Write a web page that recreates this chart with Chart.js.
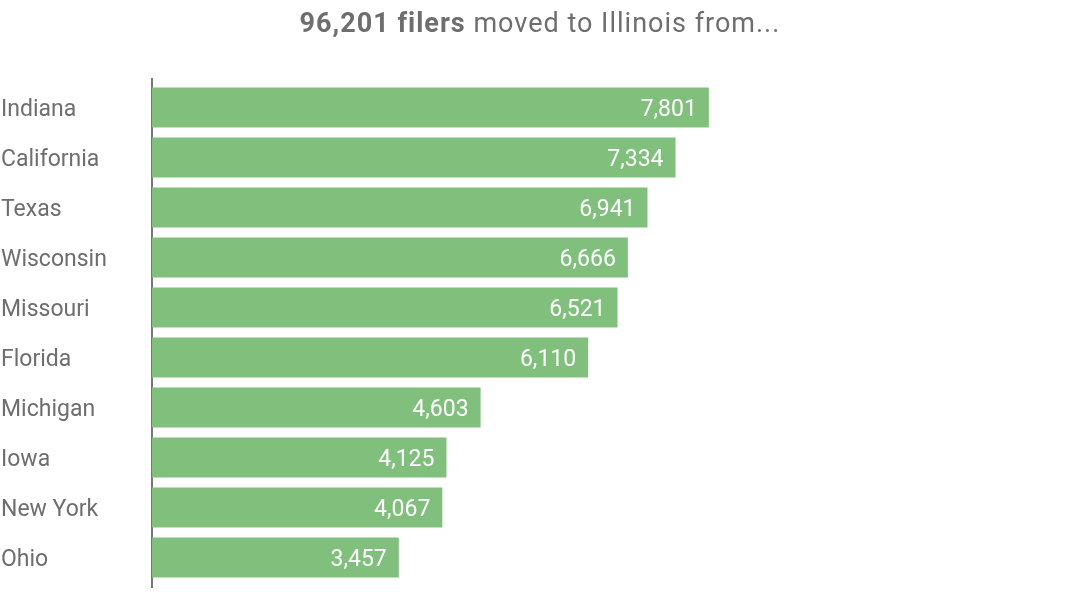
<!DOCTYPE html>
<html>
<head>
<meta charset="utf-8">
<script src="https://cdn.jsdelivr.net/npm/chart.js@4/dist/chart.umd.min.js"></script>
<style>
  html, body { margin: 0; padding: 0; background: #fff; }
  #wrap { position: relative; width: 1080px; height: 594px; }
  #title {
    position: absolute; left: 0; top: 6px; width: 1080px; text-align: center;
    font-family: Roboto, "Liberation Sans", sans-serif; font-size: 27px; color: #6e6e6e;
    line-height: 34px; letter-spacing: 1px;
  }
  #title b { font-weight: 700; }
  canvas { position: absolute; left: 0; top: 0; }
</style>
</head>
<body>
<div id="wrap">
  <canvas id="c" width="1080" height="594"></canvas>
  <div id="title"><b>96,201 filers</b> moved to Illinois from...</div>
</div>
<script>
const states = ["Indiana", "California", "Texas", "Wisconsin", "Missouri", "Florida", "Michigan", "Iowa", "New York", "Ohio"];
const filers = [7801, 7334, 6941, 6666, 6521, 6110, 4603, 4125, 4067, 3457];
const xMax = 13000;

const barColor = "#80bf7c";
const fontFamily = "Roboto, 'Liberation Sans', sans-serif";

const axisLine = {
  id: "axisLine",
  beforeDatasetsDraw(chart) {
    const ctx = chart.ctx, a = chart.chartArea;
    ctx.save();
    ctx.strokeStyle = "#777";
    ctx.lineWidth = 2;
    ctx.beginPath();
    ctx.moveTo(a.left, a.top - 4.5);
    ctx.lineTo(a.left, a.bottom + 5.5);
    ctx.stroke();
    ctx.restore();
  }
};

// shift category labels to sit on an alphabetic baseline centred on the bars
const labelBaseline = {
  id: "labelBaseline",
  beforeDraw(chart) {
    const scale = chart.scales.y;
    const items = scale.getLabelItems(chart.chartArea);
    items.forEach((it, i) => {
      if (it._shifted) return;
      const y = scale.getPixelForTick(i);
      it.options.translation = [it.options.translation[0], y + 8.5];
      it.options.textBaseline = "alphabetic";
      it._shifted = true;
    });
  }
};

const valueLabels = {
  id: "valueLabels",
  afterDatasetsDraw(chart) {
    const ctx = chart.ctx;
    const meta = chart.getDatasetMeta(0);
    ctx.save();
    ctx.fillStyle = "#ffffff";
    ctx.font = "23px " + fontFamily;
    ctx.textAlign = "right";
    ctx.textBaseline = "alphabetic";
    meta.data.forEach((bar, i) => {
      ctx.fillText(filers[i].toLocaleString("en-US"), bar.x - 12, bar.y + 8);
    });
    ctx.restore();
  }
};

new Chart(document.getElementById("c"), {
  type: "bar",
  data: {
    labels: states,
    datasets: [{
      data: filers,
      backgroundColor: barColor,
      borderWidth: 0,
      categoryPercentage: 1.0,
      barPercentage: 0.8
    }]
  },
  options: {
    indexAxis: "y",
    responsive: false,
    animation: false,
    layout: { padding: { top: 82.5, bottom: 11.5, left: 1, right: 0 } },
    plugins: { legend: { display: false }, tooltip: { enabled: false } },
    scales: {
      x: { display: false, min: 0, max: xMax },
      y: {
        grid: { display: false },
        border: { display: false },
        ticks: {
          crossAlign: "far",
          color: "#6e6e6e",
          font: { family: fontFamily, size: 23 }
        },
        afterFit(scale) {
          scale.width = 151;
          scale.paddingTop = 0;
          scale.paddingBottom = 0;
        }
      }
    }
  },
  plugins: [axisLine, labelBaseline, valueLabels]
});
</script>
</body>
</html>
